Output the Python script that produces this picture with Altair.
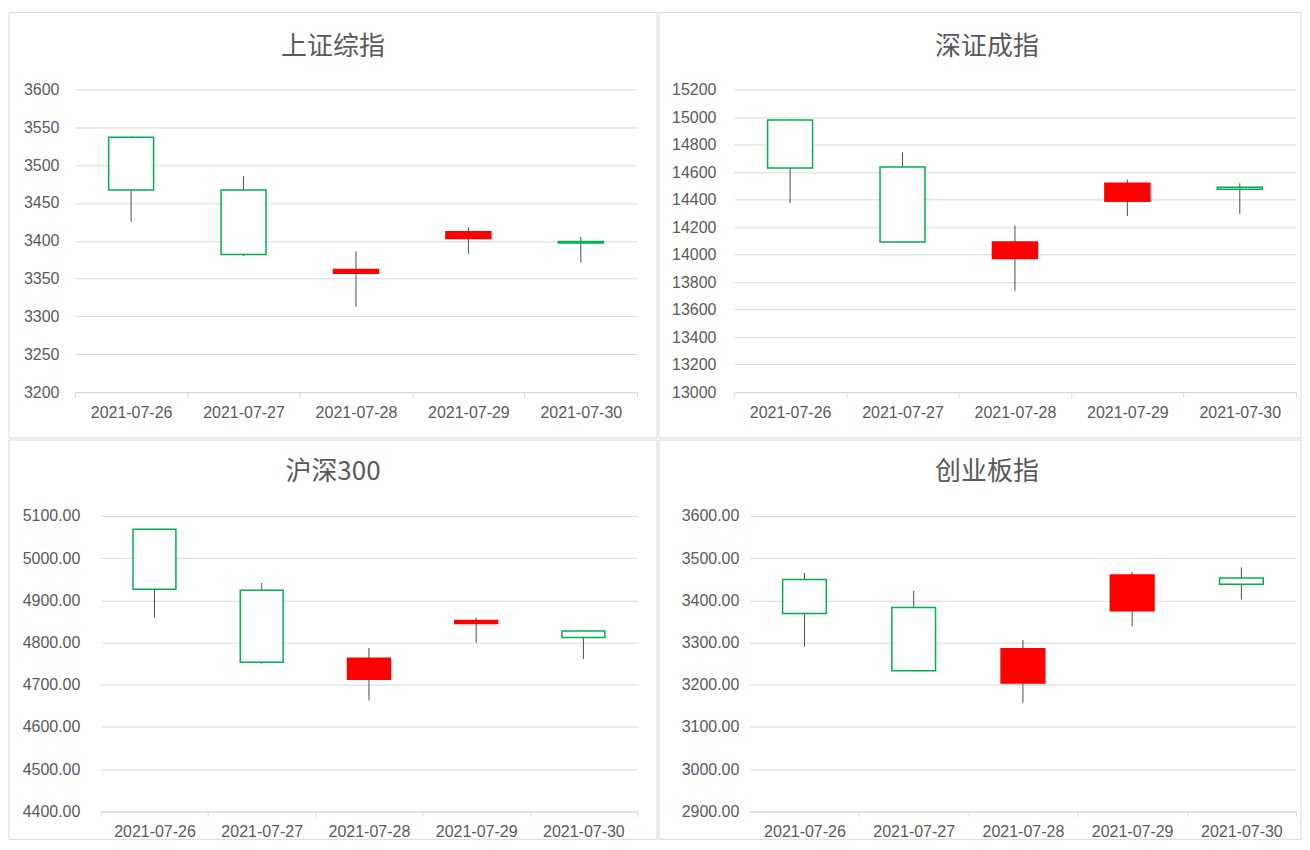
import altair as alt
import pandas as pd

dates = ["2021-07-26", "2021-07-27", "2021-07-28", "2021-07-29", "2021-07-30"]

# 上证综指
sh_open = [3537, 3467, 3357, 3403, 3399]
sh_high = [3538, 3485, 3386, 3418, 3405]
sh_low = [3425, 3380, 3313, 3383, 3371]
sh_close = [3467, 3382, 3362, 3412, 3397]

# 深证成指
sz_open = [14978, 14636, 13971, 14388, 14489]
sz_high = [14985, 14742, 14212, 14545, 14518]
sz_low = [14374, 14090, 13735, 14280, 14296]
sz_close = [14629, 14092, 14092, 14518, 14475]

# 沪深300
hs_open = [5068, 4924, 4713, 4845, 4827]
hs_high = [5069, 4941, 4787, 4859, 4828]
hs_low = [4859, 4750, 4663, 4800, 4761]
hs_close = [4926, 4753, 4763, 4852, 4812]

# 创业板指
cy_open = [3449, 3383, 3204, 3375, 3453]
cy_high = [3465, 3422, 3306, 3467, 3478]
cy_low = [3291, 3232, 3157, 3338, 3402]
cy_close = [3369, 3233, 3285, 3460, 3438]

TEXT = "#595959"
GRID = "#d9d9d9"


def panel(title, o, h, l, c, ymin, ymax, step, fmt, w, hgt, xstart, tpos, rect, labpad):
    df = pd.DataFrame({"date": dates, "open": o, "high": h, "low": l, "close": c})
    df["dir"] = ["up" if cc >= oo else "down" for oo, cc in zip(o, c)]
    one = pd.DataFrame({"a": [0]})

    xaxis = alt.Axis(title=None, labelAngle=0, tickBand="extent", ticks=True,
                     tickSize=5, tickColor=GRID, domainColor=GRID, grid=False,
                     labelPadding=7)
    xenc = alt.X("date:N", axis=xaxis,
                 scale=alt.Scale(paddingInner=0, paddingOuter=0, range=[xstart, w]))
    yaxis = alt.Axis(title=None, values=list(range(ymin, ymax + 1, step)),
                     format=fmt, grid=True, gridColor=GRID, domain=False,
                     ticks=False, labelPadding=labpad)
    yscale = alt.Scale(domain=[ymin, ymax], nice=False, zero=False)

    base = alt.Chart(df)
    wick = base.mark_rule(color="#4d4d4d", strokeWidth=1).encode(
        x=xenc,
        y=alt.Y("low:Q", scale=yscale, axis=yaxis),
        y2="high:Q",
    )
    body = base.mark_bar(width=alt.RelativeBandSize(0.4), strokeWidth=1.5).encode(
        x=xenc,
        y=alt.Y("open:Q", scale=yscale, axis=yaxis),
        y2="close:Q",
        fill=alt.Fill("dir:N", scale=alt.Scale(domain=["up", "down"],
                                               range=["#ff0000", "#ffffff"]), legend=None),
        stroke=alt.Stroke("dir:N", scale=alt.Scale(domain=["up", "down"],
                                                   range=["#ff0000", "#00b050"]), legend=None),
    )
    border = alt.Chart(one).mark_rect(fillOpacity=0, stroke=GRID, strokeWidth=1).encode(
        x=alt.value(rect[0]), x2=alt.value(rect[1]),
        y=alt.value(rect[2]), y2=alt.value(rect[3]),
    )
    ttl = alt.Chart(one).mark_text(text=title, font="Noto Sans CJK SC", fontSize=26,
                                   color=TEXT, align="center", baseline="middle").encode(
        x=alt.value(tpos[0]), y=alt.value(tpos[1])
    )
    return alt.layer(border, wick, body, ttl).properties(width=w, height=hgt)


p1 = panel("上证综指", sh_open, sh_high, sh_low, sh_close, 3200, 3600, 50, "d",
           563, 303, 0, (258.5, -43), (-66, 583, -77, 349), 16)
p2 = panel("深证成指", sz_open, sz_high, sz_low, sz_close, 13000, 15200, 200, "d",
           563, 303, 0, (253.5, -43), (-75, 568, -77, 349), 18)
p3 = panel("沪深300", hs_open, hs_high, hs_low, hs_close, 4400, 5100, 100, ".2f",
           563, 296, 26, (258.5, -44), (-66, 583, -76, 324), -5)
p4 = panel("创业板指", cy_open, cy_high, cy_low, cy_close, 2900, 3600, 100, ".2f",
           563, 296, 16, (253.5, -44), (-75, 568, -76, 324), -5)

chart = alt.concat(
    p1, p2, p3, p4, columns=2, spacing=0,
).properties(
    padding={"left": 0, "top": 3, "right": 0, "bottom": 0}
).configure_view(stroke=None).configure_axis(
    labelFont="Liberation Sans", labelFontSize=16, labelColor=TEXT
)

chart.save("out.html", embed_options={"renderer": "svg", "actions": False})
